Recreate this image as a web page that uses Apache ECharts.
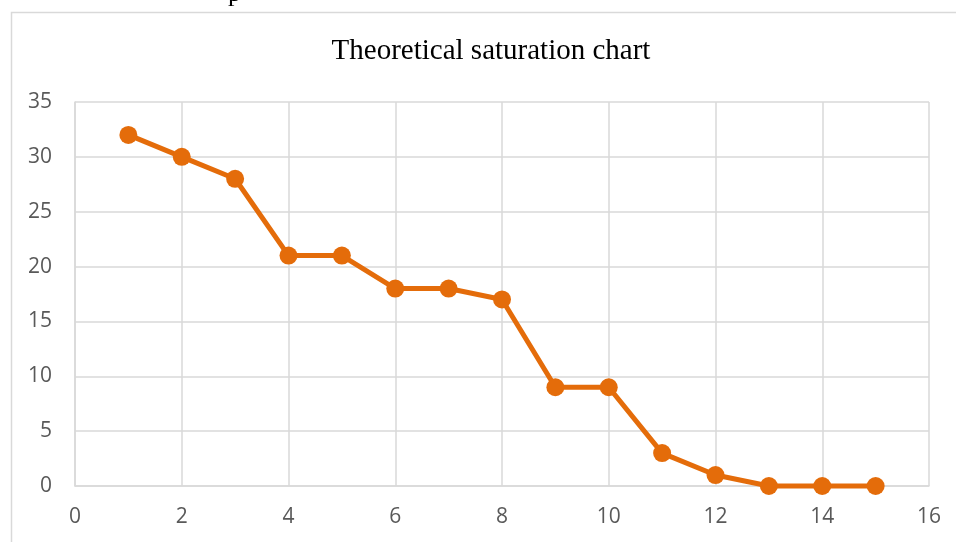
<!DOCTYPE html>
<html>
<head>
<meta charset="utf-8">
<script src="https://cdn.jsdelivr.net/npm/echarts@6/dist/echarts.min.js"></script>
<style>
html,body{margin:0;padding:0;background:#fff;}
#main{width:956px;height:542px;}
</style>
</head>
<body>
<div id="main"></div>
<script>
const titleText = 'Theoretical saturation chart';
const xValues = [1,2,3,4,5,6,7,8,9,10,11,12,13,14,15];
const yValues = [32,30,28,21,21,18,18,17,9,9,3,1,0,0,0];

const chart = echarts.init(document.getElementById('main'));
chart.setOption({
  animation: false,
  backgroundColor: '#ffffff',
  title: {
    text: titleText,
    left: 486, top: 32, textAlign: 'center',
    textStyle: {fontFamily: 'Liberation Serif', fontSize: 29, fontWeight: 'normal', color: '#000000'}
  },
  graphic: [
    {type: 'rect', shape: {x: 11.5, y: 12.5, width: 960, height: 560}, style: {fill: 'none', stroke: '#d9d9d9', lineWidth: 1.5}, silent: true},
    {type: 'text', left: 228, top: -19, style: {text: 'p', font: '26px Liberation Serif', fill: '#000'}, silent: true}
  ],
  grid: {left: 75, right: 27, top: 102, bottom: 56, containLabel: false},
  xAxis: {
    type: 'value', min: 0, max: 16, interval: 2,
    axisLine: {show: true, lineStyle: {color: '#d9d9d9', width: 1.5}},
    axisTick: {show: false},
    axisLabel: {margin: 21, color: '#595959', fontFamily: 'Open Sans', fontSize: 21},
    splitLine: {show: true, lineStyle: {color: '#d9d9d9', width: 1.5}}
  },
  yAxis: {
    type: 'value', min: 0, max: 35, interval: 5,
    axisLine: {show: true, lineStyle: {color: '#d9d9d9', width: 1.5}},
    axisTick: {show: false},
    axisLabel: {margin: 23, color: '#595959', fontFamily: 'Open Sans', fontSize: 21},
    splitLine: {show: true, lineStyle: {color: '#d9d9d9', width: 1.5}}
  },
  series: [{
    type: 'line',
    data: xValues.map((x, i) => [x, yValues[i]]),
    symbol: 'circle', symbolSize: 18,
    lineStyle: {color: '#E46C0A', width: 5},
    itemStyle: {color: '#E46C0A'},
    clip: false
  }]
});
</script>
</body>
</html>
